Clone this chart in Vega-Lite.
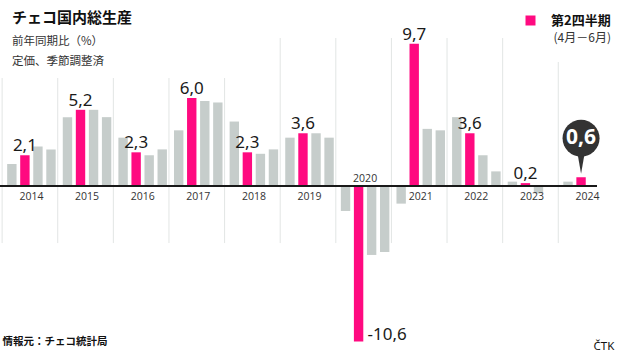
{
  "$schema": "https://vega.github.io/schema/vega-lite/v6.json",
  "width": 619,
  "height": 352,
  "padding": 0,
  "autosize": {"type": "none"},
  "background": "white",
  "title": {
    "text": "チェコ国内総生産",
    "subtitle": ["前年同期比（%）", "定価、季節調整済"],
    "anchor": "start",
    "frame": "group",
    "orient": "top",
    "offset": -67,
    "dx": 12,
    "font": "Noto Sans CJK JP",
    "fontSize": 15,
    "fontWeight": "bold",
    "color": "#111111",
    "subtitleFont": "Noto Sans CJK JP",
    "subtitleFontSize": 11.5,
    "subtitleColor": "#333333",
    "subtitleLineHeight": 20,
    "subtitlePadding": 10
  },
  "config": {
    "view": {"stroke": null},
    "locale": {"number": {"decimal": ",", "thousands": ".", "grouping": [3], "currency": ["", ""], "minus": "-"}}
  },
  "data": {
    "values": [
      {"year": 2014, "q": 1, "value": 1.5, "series": "その他"},
      {"year": 2014, "q": 2, "value": 2.1, "series": "第2四半期"},
      {"year": 2014, "q": 3, "value": 2.7, "series": "その他"},
      {"year": 2014, "q": 4, "value": 2.5, "series": "その他"},
      {"year": 2015, "q": 1, "value": 4.7, "series": "その他"},
      {"year": 2015, "q": 2, "value": 5.2, "series": "第2四半期"},
      {"year": 2015, "q": 3, "value": 5.2, "series": "その他"},
      {"year": 2015, "q": 4, "value": 4.7, "series": "その他"},
      {"year": 2016, "q": 1, "value": 3.3, "series": "その他"},
      {"year": 2016, "q": 2, "value": 2.3, "series": "第2四半期"},
      {"year": 2016, "q": 3, "value": 2.1, "series": "その他"},
      {"year": 2016, "q": 4, "value": 2.5, "series": "その他"},
      {"year": 2017, "q": 1, "value": 3.8, "series": "その他"},
      {"year": 2017, "q": 2, "value": 6.0, "series": "第2四半期"},
      {"year": 2017, "q": 3, "value": 5.8, "series": "その他"},
      {"year": 2017, "q": 4, "value": 5.7, "series": "その他"},
      {"year": 2018, "q": 1, "value": 4.4, "series": "その他"},
      {"year": 2018, "q": 2, "value": 2.3, "series": "第2四半期"},
      {"year": 2018, "q": 3, "value": 2.2, "series": "その他"},
      {"year": 2018, "q": 4, "value": 2.5, "series": "その他"},
      {"year": 2019, "q": 1, "value": 3.3, "series": "その他"},
      {"year": 2019, "q": 2, "value": 3.6, "series": "第2四半期"},
      {"year": 2019, "q": 3, "value": 3.6, "series": "その他"},
      {"year": 2019, "q": 4, "value": 3.3, "series": "その他"},
      {"year": 2020, "q": 1, "value": -1.7, "series": "その他"},
      {"year": 2020, "q": 2, "value": -10.6, "series": "第2四半期"},
      {"year": 2020, "q": 3, "value": -4.7, "series": "その他"},
      {"year": 2020, "q": 4, "value": -4.5, "series": "その他"},
      {"year": 2021, "q": 1, "value": -1.2, "series": "その他"},
      {"year": 2021, "q": 2, "value": 9.7, "series": "第2四半期"},
      {"year": 2021, "q": 3, "value": 3.9, "series": "その他"},
      {"year": 2021, "q": 4, "value": 3.8, "series": "その他"},
      {"year": 2022, "q": 1, "value": 4.7, "series": "その他"},
      {"year": 2022, "q": 2, "value": 3.6, "series": "第2四半期"},
      {"year": 2022, "q": 3, "value": 2.1, "series": "その他"},
      {"year": 2022, "q": 4, "value": 1.0, "series": "その他"},
      {"year": 2023, "q": 1, "value": 0.3, "series": "その他"},
      {"year": 2023, "q": 2, "value": 0.2, "series": "第2四半期"},
      {"year": 2023, "q": 3, "value": -0.5, "series": "その他"},
      {"year": 2023, "q": 4, "value": 0.0, "series": "その他"},
      {"year": 2024, "q": 1, "value": 0.3, "series": "その他"},
      {"year": 2024, "q": 2, "value": 0.6, "series": "第2四半期"}
    ]
  },
  "layer": [
    {
      "transform": [{"filter": "datum.q === 1 && datum.year <= 2018"}],
      "mark": {"type": "rule", "color": "#e2e5e4", "strokeWidth": 1, "xOffset": -4},
      "encoding": {
        "x": {"field": "year", "type": "ordinal", "bandPosition": 0},
        "y": {"datum": 7.37},
        "y2": {"datum": -3.89}
      }
    },
    {
      "transform": [{"filter": "datum.q === 1 && datum.year >= 2019 && datum.year <= 2023"}],
      "mark": {"type": "rule", "color": "#e2e5e4", "strokeWidth": 1, "xOffset": -4},
      "encoding": {
        "x": {"field": "year", "type": "ordinal", "bandPosition": 0},
        "y": {"datum": 10.1},
        "y2": {"datum": -3.89}
      }
    },
    {
      "transform": [{"filter": "datum.q === 1 && datum.year === 2024"}],
      "mark": {"type": "rule", "color": "#e2e5e4", "strokeWidth": 1, "xOffset": -4},
      "encoding": {
        "x": {"field": "year", "type": "ordinal", "bandPosition": 0},
        "y": {"datum": 8.46},
        "y2": {"datum": -3.89}
      }
    },
    {
      "mark": {"type": "bar"},
      "encoding": {
        "x": {
          "field": "year",
          "type": "ordinal",
          "scale": {"paddingInner": 0.09, "paddingOuter": 0.11},
          "axis": {
            "labels": false, "ticks": false, "domain": false, "grid": false,
            "title": "情報元：チェコ統計局",
            "titleFont": "Noto Sans CJK JP",
            "titleFontSize": 10.5,
            "titleFontWeight": "bold",
            "titleColor": "#111111",
            "titleAnchor": "start",
            "titleAlign": "left",
            "titleBaseline": "alphabetic",
            "titleX": 2,
            "titleY": -8
          }
        },
        "xOffset": {"field": "q", "type": "ordinal", "scale": {"paddingInner": 0.28, "paddingOuter": 0.08}},
        "y": {
          "field": "value",
          "type": "quantitative",
          "scale": {"domain": [-11.32, 12.69], "nice": false, "zero": false},
          "axis": {
            "orient": "right",
            "labels": false, "ticks": false, "domain": false, "grid": false,
            "title": "ČTK",
            "titleAngle": 0,
            "titleFont": "Noto Sans",
            "titleFontSize": 11.5,
            "titleFontWeight": "normal",
            "titleColor": "#111111",
            "titleAlign": "left",
            "titleBaseline": "alphabetic",
            "titleX": -26,
            "titleY": 349
          }
        },
        "color": {
          "field": "series",
          "type": "nominal",
          "scale": {"domain": ["第2四半期", "その他"], "range": ["#ff0a80", "#c6cdcb"]},
          "legend": {
            "values": ["第2四半期"],
            "orient": "none",
            "legendX": 524,
            "legendY": 14,
            "title": "(4月－6月)",
            "titleOrient": "bottom",
            "titleAnchor": "end",
            "titleFont": "Noto Sans CJK JP",
            "titleFontSize": 12,
            "titleFontWeight": "normal",
            "titleColor": "#333333",
            "titlePadding": 5,
            "symbolType": "square",
            "symbolSize": 100,
            "symbolStrokeWidth": 0,
            "symbolOpacity": 1,
            "labelFont": "Noto Sans CJK JP",
            "labelFontSize": 13,
            "labelFontWeight": "bold",
            "labelColor": "#111111",
            "labelOffset": 14
          }
        }
      }
    },
    {
      "mark": {"type": "rule", "color": "#1a1a1a", "strokeWidth": 1.5, "xOffset": -7, "x2Offset": 34},
      "encoding": {
        "x": {"datum": 2014, "type": "ordinal", "bandPosition": 0},
        "x2": {"datum": 2024, "bandPosition": 0},
        "y": {"datum": 0}
      }
    },
    {
      "transform": [{"filter": "datum.q === 2 && datum.value > 0 && datum.year < 2024"}],
      "mark": {"type": "text", "font": "Noto Sans", "fontSize": 17, "color": "#1a1a1a", "baseline": "alphabetic", "dy": -4},
      "encoding": {
        "x": {"field": "year", "type": "ordinal"},
        "xOffset": {"field": "q", "type": "ordinal"},
        "y": {"field": "value", "type": "quantitative"},
        "text": {"field": "value", "type": "quantitative", "format": ".1f"}
      }
    },
    {
      "transform": [{"filter": "datum.q === 2 && datum.value < 0"}],
      "mark": {"type": "text", "font": "Noto Sans", "fontSize": 17, "color": "#1a1a1a", "baseline": "alphabetic", "align": "left", "dx": 9, "dy": -1},
      "encoding": {
        "x": {"field": "year", "type": "ordinal"},
        "xOffset": {"field": "q", "type": "ordinal"},
        "y": {"field": "value", "type": "quantitative"},
        "text": {"field": "value", "type": "quantitative", "format": ".1f"}
      }
    },
    {
      "transform": [{"filter": "datum.q === 2 && datum.year !== 2020"}],
      "mark": {"type": "text", "font": "Open Sans", "fontSize": 10.5, "color": "#333333", "baseline": "middle", "dy": 11},
      "encoding": {
        "x": {"field": "year", "type": "ordinal"},
        "y": {"datum": 0},
        "text": {"field": "year", "type": "nominal"}
      }
    },
    {
      "transform": [{"filter": "datum.q === 2 && datum.year === 2020"}],
      "mark": {"type": "text", "font": "Open Sans", "fontSize": 10.5, "color": "#333333", "baseline": "middle", "dy": -7},
      "encoding": {
        "x": {"field": "year", "type": "ordinal"},
        "y": {"datum": 0},
        "text": {"field": "year", "type": "nominal"}
      }
    },
    {
      "transform": [{"filter": "datum.q === 2 && datum.year === 2024"}],
      "mark": {"type": "point", "shape": "M-0.35,-1L0.35,-1L0,1Z", "filled": true, "color": "#333333", "opacity": 1, "size": 361, "yOffset": -13},
      "encoding": {
        "x": {"field": "year", "type": "ordinal"},
        "xOffset": {"field": "q", "type": "ordinal"},
        "y": {"field": "value", "type": "quantitative"}
      }
    },
    {
      "transform": [{"filter": "datum.q === 2 && datum.year === 2024"}],
      "mark": {"type": "point", "shape": "circle", "filled": true, "color": "#333333", "opacity": 1, "size": 1369, "yOffset": -39},
      "encoding": {
        "x": {"field": "year", "type": "ordinal"},
        "xOffset": {"field": "q", "type": "ordinal"},
        "y": {"field": "value", "type": "quantitative"}
      }
    },
    {
      "transform": [{"filter": "datum.q === 2 && datum.year === 2024"}],
      "mark": {"type": "text", "font": "Open Sans", "fontSize": 21, "fontWeight": "bold", "color": "#ffffff", "baseline": "middle", "dy": -39},
      "encoding": {
        "x": {"field": "year", "type": "ordinal"},
        "xOffset": {"field": "q", "type": "ordinal"},
        "y": {"field": "value", "type": "quantitative"},
        "text": {"field": "value", "type": "quantitative", "format": ".1f"}
      }
    }
  ]
}
